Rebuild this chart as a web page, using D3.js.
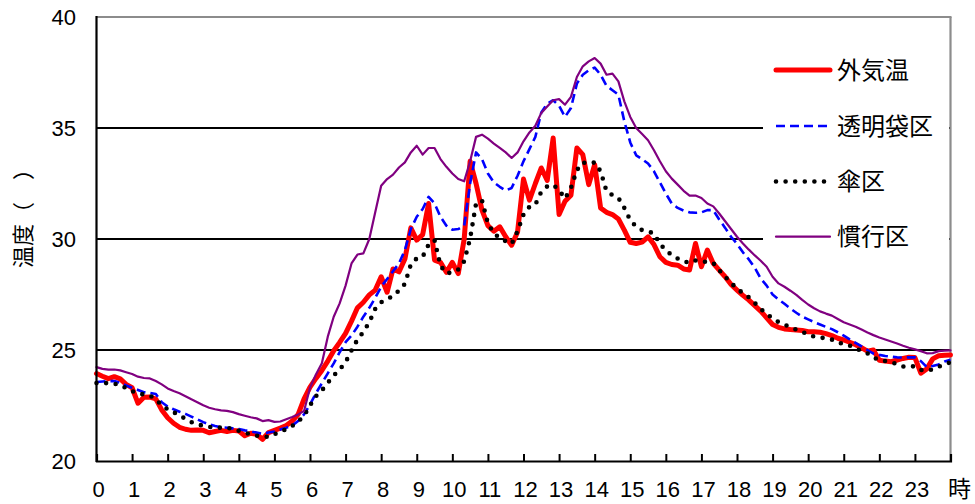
<!DOCTYPE html>
<html>
<head>
<meta charset="utf-8">
<script src="https://cdn.jsdelivr.net/npm/d3@7"></script>
<style>
  html, body { margin: 0; padding: 0; background: #fff; }
  svg { display: block; }
</style>
</head>
<body>
<svg id="chart" width="975" height="504"></svg>
<script>
// ---- data (10-minute readings, 0:00 – 24:00) ----
const minutes = d3.range(0, 1441, 10);
const xTickLabels = ["0","1","2","3","4","5","6","7","8","9","10","11","12","13","14","15","16","17","18","19","20","21","22","23"];
const yTickValues = [20, 25, 30, 35, 40];
const seriesNames = ["外気温", "透明袋区", "傘区", "慣行区"];

const outside = [
23.94,23.82,23.71,23.80,23.70,23.45,23.30,22.60,22.87,22.88,22.80,22.30,21.95,21.70,21.52,21.43,21.38,21.40,
21.38,21.27,21.33,21.38,21.33,21.38,21.35,21.14,21.25,21.20,20.98,21.28,21.38,21.48,21.60,21.80,22.10,22.80,
23.33,23.72,24.08,24.50,24.97,25.34,25.75,26.30,26.90,27.15,27.48,27.70,28.30,27.60,28.65,28.52,29.10,30.50,
29.95,30.20,31.60,29.05,28.95,28.50,28.95,28.44,30.00,33.50,32.50,31.30,30.60,30.35,30.55,30.10,29.72,30.32,
32.70,31.75,32.50,33.20,32.64,34.55,31.10,31.70,31.97,34.10,33.80,32.45,33.35,31.40,31.20,31.10,30.90,30.40,
29.85,29.80,29.86,30.10,29.75,29.20,28.95,28.85,28.82,28.65,28.60,29.80,28.75,29.50,28.90,28.60,28.30,27.95,
27.70,27.46,27.25,27.00,26.75,26.45,26.15,26.02,25.95,25.92,25.90,25.88,25.82,25.82,25.80,25.74,25.65,25.53,
25.45,25.35,25.24,25.10,24.95,25.00,24.54,24.50,24.47,24.55,24.62,24.67,24.66,23.96,24.15,24.60,24.74,24.76,
24.78];

const bag = [
23.56,23.58,23.60,23.60,23.52,23.40,23.30,23.20,23.10,23.07,23.02,22.65,22.45,22.33,22.22,22.12,22.00,21.88,
21.75,21.65,21.58,21.52,21.50,21.47,21.44,21.38,21.33,21.28,21.23,21.28,21.33,21.42,21.50,21.60,21.80,22.10,
22.55,23.05,23.50,23.95,24.40,24.90,25.35,25.65,26.05,26.50,26.90,27.35,27.85,28.20,28.55,28.90,29.50,30.45,
31.00,31.35,31.90,31.60,31.00,30.60,30.42,30.45,30.60,32.50,33.90,33.60,32.95,32.55,32.35,32.18,32.30,32.85,
33.50,34.05,34.60,35.70,36.10,36.25,36.00,35.50,35.90,37.00,37.40,37.60,37.72,37.40,36.90,36.70,36.50,35.30,
34.35,33.77,33.60,33.40,33.05,32.55,32.05,31.60,31.40,31.28,31.20,31.18,31.20,31.30,31.30,30.88,30.50,30.10,
29.78,29.40,29.08,28.70,28.22,27.90,27.50,27.28,27.08,26.87,26.68,26.50,26.38,26.26,26.15,26.04,25.94,25.80,
25.65,25.48,25.32,25.16,25.00,24.84,24.78,24.73,24.70,24.67,24.66,24.67,24.67,24.50,24.23,24.28,24.35,24.48,
24.56];

const umbrella = [
23.51,23.51,23.51,23.48,23.43,23.28,23.15,23.04,23.00,22.95,22.77,22.52,22.33,22.20,22.05,21.90,21.75,21.65,
21.59,21.54,21.51,21.50,21.49,21.46,21.36,21.28,21.20,21.14,21.11,21.08,21.20,21.33,21.43,21.58,21.78,22.04,
22.50,22.92,23.18,23.52,23.85,24.12,24.45,24.98,25.47,25.81,26.25,26.85,27.15,27.30,27.42,27.68,27.98,28.85,
29.13,29.20,29.75,29.95,28.80,28.45,28.50,28.63,29.00,30.02,31.60,31.74,30.70,30.25,30.05,29.90,29.78,30.35,
31.10,31.45,31.55,32.13,32.37,32.45,32.20,31.82,32.30,33.10,33.45,33.40,33.45,33.05,32.15,31.98,31.85,31.40,
30.85,30.56,30.40,30.34,30.25,29.78,29.50,29.27,29.12,29.00,28.92,29.03,29.02,28.95,28.92,28.60,28.30,28.02,
27.77,27.56,27.38,27.12,26.85,26.63,26.42,26.26,26.14,26.03,25.92,25.83,25.68,25.61,25.56,25.53,25.47,25.34,
25.27,25.20,25.07,24.96,24.85,24.66,24.56,24.50,24.44,24.37,24.26,24.25,24.27,24.10,24.07,24.13,24.25,24.35,
24.45];

const conventional = [
24.23,24.15,24.12,24.12,24.08,24.00,23.92,23.80,23.74,23.72,23.60,23.45,23.27,23.15,23.05,22.92,22.78,22.65,
22.51,22.40,22.33,22.28,22.26,22.20,22.11,22.04,21.97,21.92,21.80,21.84,21.76,21.78,21.88,21.98,22.10,22.25,
23.30,23.90,24.40,25.60,26.50,27.10,27.90,28.90,29.30,29.35,30.00,31.20,32.40,32.70,32.90,33.22,33.45,33.90,
34.20,33.80,34.10,34.10,33.60,33.25,32.95,32.70,32.60,33.50,34.60,34.70,34.52,34.30,34.10,33.90,33.65,33.90,
34.40,34.80,35.10,35.68,35.97,36.25,36.30,36.05,36.40,37.30,37.78,38.00,38.15,37.90,37.40,37.45,37.10,36.20,
35.50,35.00,34.73,34.45,34.00,33.50,33.05,32.72,32.45,32.17,31.95,31.96,31.85,31.60,31.47,31.15,30.80,30.45,
30.10,29.80,29.52,29.26,29.02,28.75,28.30,28.00,27.85,27.67,27.48,27.26,27.05,26.88,26.74,26.64,26.55,26.40,
26.25,26.15,26.05,25.92,25.79,25.67,25.56,25.47,25.38,25.29,25.19,25.10,25.03,24.95,24.85,24.86,24.95,24.97,
24.98];

// ---- styles ----
const styles = [
  { color: "#ff0000", width: 5,   dash: null,    cap: "round" },
  { color: "#0000ff", width: 2.6, dash: "9,5",   cap: "butt"  },
  { color: "#000000", width: 4.6, dash: "0,9.6", cap: "round" },
  { color: "#800080", width: 2.2, dash: null,    cap: "round" }
];
const seriesValues = [outside, bag, umbrella, conventional];

const svg = d3.select("#chart");
const plotLeft = 96.5, plotRight = 950.5, plotTop = 17, plotBottom = 461;

const x = d3.scaleLinear().domain([0, 1440]).range([plotLeft, plotRight]);
const y = d3.scaleLinear().domain([20, 40]).range([plotBottom, plotTop]);

// gridlines
svg.append("g").selectAll("line")
  .data(yTickValues.filter(v => v > 20 && v < 40))
  .join("line")
  .attr("x1", plotLeft).attr("x2", plotRight)
  .attr("y1", d => y(d)).attr("y2", d => y(d))
  .attr("stroke", "#000").attr("stroke-width", 2);

// top and right frame (grey)
svg.append("line").attr("x1", plotLeft).attr("x2", plotRight + 1).attr("y1", plotTop).attr("y2", plotTop)
  .attr("stroke", "#8c8c8c").attr("stroke-width", 2.2);
svg.append("line").attr("x1", plotRight).attr("x2", plotRight).attr("y1", plotTop).attr("y2", plotBottom)
  .attr("stroke", "#8c8c8c").attr("stroke-width", 2.2);

// legend background
svg.append("rect")
  .attr("x", 763).attr("y", 40).attr("width", 186).attr("height", 218)
  .attr("fill", "#fff");

// series lines
const line = d3.line().x((d, i) => x(minutes[i])).y(d => y(d));
seriesValues.forEach((vals, k) => {
  const st = styles[k];
  svg.append("path")
    .datum(vals)
    .attr("d", line)
    .attr("fill", "none")
    .attr("stroke", st.color)
    .attr("stroke-width", st.width)
    .attr("stroke-linejoin", "round")
    .attr("stroke-linecap", st.cap)
    .attr("stroke-dasharray", st.dash);
});

// x axis (ticks pointing up)
const xAxis = d3.axisBottom(x)
  .tickValues(d3.range(0, 1441, 60))
  .tickSize(-7)
  .tickFormat("");
const gx = svg.append("g").attr("transform", `translate(0,${plotBottom})`).call(xAxis);
gx.select(".domain").attr("stroke", "#000").attr("stroke-width", 2.2);
gx.selectAll(".tick line").attr("stroke", "#000").attr("stroke-width", 2);

// x tick labels
svg.append("g").selectAll("text")
  .data(xTickLabels)
  .join("text")
  .attr("x", (d, i) => x(i * 60) + 2)
  .attr("y", 497)
  .attr("text-anchor", "middle")
  .attr("font-family", "Arial, 'Liberation Sans', sans-serif")
  .attr("font-size", 22)
  .attr("fill", "#000")
  .text(d => d);

// unit label 時
svg.append("text")
  .attr("x", 948).attr("y", 497)
  .attr("font-family", "'Noto Sans CJK JP', sans-serif")
  .attr("font-size", 23)
  .attr("fill", "#000")
  .text("時");

// y axis line
svg.append("line").attr("x1", plotLeft).attr("x2", plotLeft).attr("y1", plotTop - 1).attr("y2", plotBottom + 1)
  .attr("stroke", "#000").attr("stroke-width", 2.2);

// y tick labels
svg.append("g").selectAll("text")
  .data(yTickValues)
  .join("text")
  .attr("x", 76)
  .attr("y", d => y(d))
  .attr("dy", "0.36em")
  .attr("text-anchor", "end")
  .attr("font-family", "Arial, 'Liberation Sans', sans-serif")
  .attr("font-size", 22)
  .attr("fill", "#000")
  .text(d => d);

// y title
svg.append("text")
  .attr("transform", "translate(31,213) rotate(-90)")
  .attr("text-anchor", "middle")
  .attr("font-family", "'Noto Sans CJK JP', sans-serif")
  .attr("font-size", 22)
  .attr("fill", "#000")
  .text("温度（　）");

// legend
const legendY = [70, 126, 181.5, 236.7];
const lg = svg.append("g");
seriesNames.forEach((name, k) => {
  const st = styles[k];
  lg.append("line")
    .attr("x1", 776).attr("x2", 830)
    .attr("y1", legendY[k]).attr("y2", legendY[k])
    .attr("stroke", st.color)
    .attr("stroke-width", st.width)
    .attr("stroke-linecap", st.cap)
    .attr("stroke-dasharray", st.dash);
  lg.append("text")
    .attr("x", 837).attr("y", legendY[k])
    .attr("dy", "0.36em")
    .attr("font-family", "'Noto Sans CJK JP', sans-serif")
    .attr("font-size", 24)
    .attr("fill", "#000")
    .text(name);
});
</script>
</body>
</html>
